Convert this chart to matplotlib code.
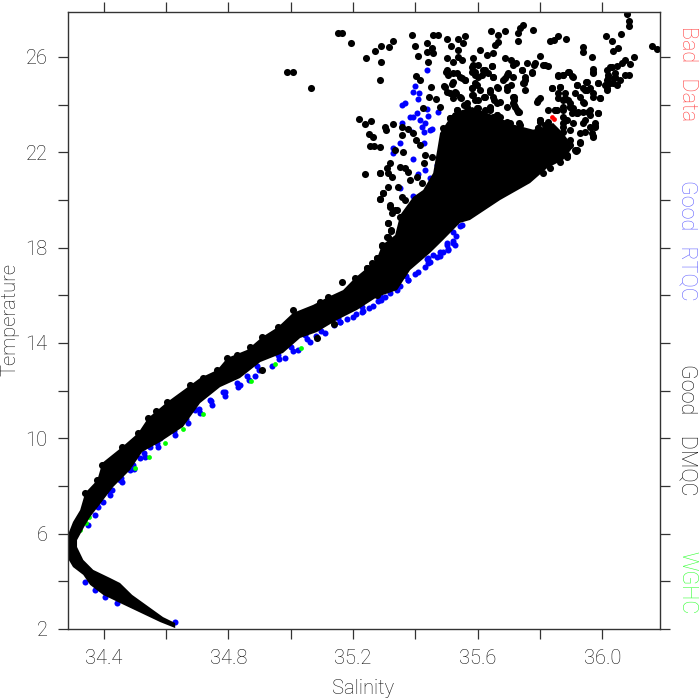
import matplotlib
matplotlib.use('Agg')
import matplotlib.pyplot as plt
from matplotlib.ticker import MultipleLocator, FixedLocator, FixedFormatter

plt.rcParams['font.family'] = ['Roboto', 'DejaVu Sans']

x_ticks = [34.4, 34.8, 35.2, 35.6, 36.0]
x_labels = ['34.4', '34.8', '35.2', '35.6', '36.0']
y_ticks = [2, 6, 10, 14, 18, 22, 26]
y_labels = ['2', '6', '10', '14', '18', '22', '26']

# the saturated part of the cloud, where single points cannot be told apart: outline only
core_sal = [34.629, 34.581, 34.452, 34.398, 34.356, 34.334, 34.301, 34.282, 34.282, 34.301, 34.324, 34.340, 34.379,
            34.395, 34.459, 34.510, 34.542, 34.603, 34.709, 34.764, 34.796, 34.860, 34.908, 34.959, 35.007, 35.072,
            35.120, 35.168, 35.206, 35.245, 35.277, 35.293, 35.335, 35.351, 35.393, 35.425, 35.457, 35.470, 35.479,
            35.521, 35.582, 35.640, 35.704, 35.778, 35.810, 35.842, 35.874, 35.906, 35.874, 35.823, 35.768, 35.672,
            35.575, 35.543, 35.489, 35.447, 35.383, 35.341, 35.277, 35.213, 35.149, 35.084, 35.030, 34.975, 34.902,
            34.837, 34.773, 34.709, 34.654, 34.581, 34.523, 34.484, 34.430, 34.356, 34.340, 34.314, 34.314, 34.334,
            34.366, 34.420, 34.452, 34.491, 34.590, 34.629]
core_temp = [2.04, 2.29, 3.09, 3.43, 3.85, 4.27, 4.60, 5.02, 5.86, 6.49, 6.99, 7.71, 8.25,
             8.97, 9.64, 10.22, 10.85, 11.52, 12.53, 12.87, 13.37, 13.71, 14.25, 14.67, 15.26, 15.60,
             15.93, 16.22, 16.73, 17.15, 17.57, 18.11, 18.53, 19.37, 20.13, 20.42, 21.13, 22.10, 22.81,
             23.65, 23.90, 23.60, 23.20, 22.95, 23.06, 23.23, 22.81, 22.22, 21.68, 21.34, 20.71, 20.00,
             19.16, 19.04, 18.32, 17.78, 17.06, 16.22, 15.93, 15.39, 14.97, 14.46, 14.21, 13.58, 13.20,
             12.53, 12.15, 11.48, 10.48, 9.85, 9.43, 8.67, 7.96, 6.70, 6.36, 5.73, 5.44, 4.90,
             4.48, 4.14, 3.93, 3.43, 2.50, 2.25]

# Good DMQC
dmqc_sal = [36.080, 36.087, 36.085, 36.059, 36.012, 36.030, 36.033, 36.049, 36.158, 36.174, 36.103, 36.089, 36.073,
            36.062, 36.046, 36.030, 36.014, 36.019, 36.041, 36.057, 36.073, 36.087, 36.014, 36.009, 36.035, 36.014,
            36.046, 35.746, 35.736, 35.730, 35.730, 35.776, 35.688, 35.666, 35.644, 35.666, 35.655, 35.883, 35.859,
            35.832, 35.845, 35.939, 35.937, 35.968, 35.971, 35.969, 35.891, 35.875, 35.859, 35.902, 35.948, 35.918,
            35.939, 35.960, 35.987, 35.388, 35.458, 35.474, 35.502, 35.559, 35.538, 35.554, 35.327, 35.288, 35.270,
            35.316, 35.193, 35.241, 35.291, 35.286, 35.399, 35.407, 35.438, 35.452, 35.438, 35.458, 35.441, 35.500,
            35.522, 35.538, 35.538, 35.548, 35.514, 35.607, 35.629, 35.650, 35.586, 35.688, 35.707, 35.722, 35.800,
            35.757, 35.784, 35.811, 35.827, 35.741, 35.773, 35.752, 35.744, 35.714, 35.693, 35.682, 35.645, 35.623,
            35.602, 35.584, 35.581, 35.500, 35.506, 35.532, 35.548, 35.522, 35.559, 35.591, 35.613, 35.650, 35.401,
            35.415, 35.450, 35.495, 35.500, 35.527, 35.543, 35.581, 35.597, 35.639, 35.666, 35.693, 35.837, 35.864,
            35.880, 35.891, 35.859, 35.800, 35.789, 35.714, 35.714, 35.725, 35.445, 35.466, 35.425, 35.479, 35.511,
            35.538, 35.565, 35.597, 35.639, 35.661, 35.693, 35.701, 35.736, 35.800, 35.795, 35.848, 35.875, 35.896,
            35.918, 35.939, 35.960, 35.987, 35.928, 35.950, 35.971, 35.993, 35.902,
            35.220, 35.239, 35.257, 35.302, 35.306, 35.329, 35.356, 35.377, 35.391, 35.251, 35.263, 35.254, 35.267,
            35.286, 35.356, 35.401, 35.415, 35.334, 35.361, 35.318, 35.308, 35.351, 35.367, 35.324, 35.286, 35.238,
            35.377, 35.313, 35.297, 35.287, 35.356, 35.367, 35.383, 35.404, 35.420, 35.452, 35.431, 35.428, 35.318,
            35.334, 35.324, 35.351, 35.313, 35.321, 35.310, 35.292, 35.278, 35.308,
            35.693, 35.725, 35.757, 35.821, 35.875, 35.976, 35.969, 35.928, 35.915, 35.886, 35.864, 35.832, 35.811,
            35.490, 35.543, 35.586, 35.618, 35.650, 35.672, 35.714, 35.768, 35.843, 35.896, 35.939, 35.896, 35.853,
            35.152, 35.165, 34.988, 35.007, 35.065,
            35.287, 35.312, 35.344, 35.296, 35.287, 35.319, 35.341, 35.312, 35.322, 35.312, 35.293, 35.277, 35.261,
            35.245, 35.206, 35.165,
            35.533, 35.544, 35.565, 35.592, 35.602, 35.619, 35.640, 35.661, 35.672, 35.693, 35.715, 35.720, 35.731,
            35.731, 35.704, 35.672, 35.800, 35.816, 35.854, 35.875, 35.897, 35.886, 35.918, 35.940, 35.961, 35.977,
            35.966, 35.929, 35.918, 35.886, 35.875, 35.651, 35.581, 35.608, 35.512, 35.490, 35.490,
            35.085, 35.139, 35.277, 34.908, 35.007, 34.568, 34.395, 34.796, 34.908, 34.959, 34.719, 34.869, 34.542,
            34.603, 34.459, 34.677, 34.828, 35.030, 35.094, 34.379, 34.340, 34.510, 34.764, 35.120, 35.245]
dmqc_temp = [27.81, 27.53, 27.28, 26.96, 26.86, 26.65, 26.26, 26.37, 26.44, 26.34, 26.02, 25.70, 25.88,
             25.74, 25.64, 25.56, 25.46, 25.25, 25.15, 25.04, 25.25, 25.25, 25.04, 24.83, 24.90, 24.62,
             24.83, 27.35, 27.21, 27.00, 26.69, 27.14, 27.11, 26.93, 27.11, 26.61, 26.51, 26.76, 26.89,
             26.65, 26.72, 26.40, 26.23, 26.02, 25.49, 25.32, 25.39, 25.25, 25.21, 25.21, 24.97, 24.83,
             24.69, 24.69, 24.90, 26.93, 26.93, 26.93, 26.76, 26.89, 26.76, 26.58, 26.66, 26.47, 26.27,
             26.41, 26.59, 25.95, 25.77, 25.03, 26.44, 26.05, 26.58, 26.37, 26.19, 26.16, 25.81, 25.95,
             25.81, 26.30, 26.02, 25.88, 26.47, 26.30, 26.09, 26.16, 25.95, 25.95, 25.88, 25.74, 26.05,
             25.74, 25.74, 25.67, 25.64, 25.46, 25.39, 25.04, 24.90, 25.18, 25.25, 25.04, 25.63, 25.46,
             25.67, 25.67, 25.39, 25.46, 25.25, 25.32, 25.11, 24.97, 25.04, 25.25, 25.25, 25.18, 25.21,
             25.04, 24.73, 24.76, 24.55, 24.55, 24.34, 24.69, 24.83, 24.55, 24.69, 24.73, 24.69, 24.76,
             24.48, 24.20, 24.27, 24.27, 24.13, 24.34, 24.06, 23.78, 24.31, 24.24, 23.85, 23.89, 23.43,
             23.64, 23.92, 23.85, 23.85, 23.57, 23.29, 23.01, 23.15, 23.29, 23.01, 23.78, 23.78, 23.92,
             23.64, 23.71, 23.57, 23.64, 24.34, 24.62, 24.34, 24.27, 23.64,
             23.39, 23.19, 23.33, 23.08, 22.94, 23.18, 23.08, 22.97, 22.80, 22.77, 22.63, 22.28, 22.28,
             22.24, 22.73, 22.52, 22.31, 22.10, 22.03, 21.54, 21.33, 21.40, 21.33, 20.98, 21.12, 21.11,
             21.19, 20.56, 20.31, 20.03, 20.14, 20.00, 20.84, 20.98, 20.70, 21.82, 21.89, 21.54, 19.72,
             19.58, 19.44, 19.30, 19.05, 18.71, 18.43, 18.08, 17.58, 17.76,
             22.66, 22.80, 22.80, 22.66, 23.08, 23.11, 22.69, 22.38, 22.07, 21.86, 21.61, 21.33, 21.15,
             22.52, 22.66, 23.22, 23.36, 23.50, 22.87, 22.66, 22.52, 22.80, 22.94, 23.22, 22.52, 22.38,
             27.01, 27.01, 25.37, 25.37, 24.70,
             21.13, 21.13, 20.55, 20.29, 20.04, 19.79, 19.58, 19.04, 18.74, 18.45, 18.11, 17.57, 17.36,
             17.15, 16.73, 16.56,
             23.78, 23.36, 24.06, 24.20, 23.64, 24.34, 23.78, 24.06, 23.50, 23.92, 24.20, 23.92, 23.71,
             23.22, 23.22, 23.08, 23.36, 23.15, 23.78, 24.20, 23.92, 23.36, 23.64, 24.06, 23.78, 23.22,
             22.80, 22.80, 22.10, 21.82, 23.22, 24.20, 24.41, 24.62, 24.48, 23.01, 22.52,
             14.21, 14.80, 16.01, 12.87, 15.39, 11.15, 8.88, 13.37, 14.25, 14.67, 12.53, 13.83, 10.85,
             11.52, 9.64, 12.24, 13.50, 15.05, 15.72, 8.25, 7.71, 10.22, 12.87, 15.93, 17.15]

# Good DMQC, clumps in the upper part of the cloud
upper_sal = [35.498, 35.520, 35.492, 35.516, 35.543, 35.559, 35.530, 35.522, 35.545, 35.556, 35.581, 35.591, 35.602,
             35.618, 35.634, 35.650, 35.645, 35.581, 35.591, 35.586, 35.602, 35.623, 35.640, 35.661, 35.650, 35.672,
             35.688, 35.698, 35.706, 35.693, 35.714, 35.741, 35.752, 35.747, 35.752, 35.717, 35.717, 35.730, 35.680,
             35.661, 35.533, 35.511, 35.554, 35.575, 35.602, 35.623, 35.640,
             35.816, 35.779, 35.773, 35.859, 35.875, 35.894, 35.905, 35.971, 36.025, 36.041, 36.019, 36.014, 35.950,
             35.918, 35.838, 35.864, 35.987, 36.025, 36.036, 35.795, 35.880, 35.859, 35.912, 35.945, 35.971, 35.993,
             35.939, 35.896, 35.875, 35.907, 35.987, 35.955, 35.923, 35.827, 35.848, 35.800, 35.827, 35.875, 35.907,
             35.945, 35.961, 35.977, 35.945, 35.971, 35.929, 35.912, 35.886, 35.896, 35.875, 35.838, 35.795]
upper_temp = [25.39, 25.32, 24.79, 24.87, 25.15, 25.04, 24.48, 24.27, 24.27, 23.99, 24.69, 24.90, 25.18,
              25.46, 25.32, 25.18, 25.63, 25.60, 25.39, 24.41, 24.20, 24.34, 24.62, 24.76, 24.34, 24.13,
              25.11, 25.32, 24.83, 24.62, 25.67, 25.46, 25.18, 24.90, 24.62, 24.34, 23.99, 23.68, 23.22,
              23.57, 23.78, 23.43, 23.64, 23.71, 23.85, 23.78, 23.92,
              25.67, 25.67, 25.32, 25.25, 25.25, 25.35, 25.15, 25.39, 25.60, 25.32, 25.11, 24.69, 24.97,
              24.83, 24.69, 24.76, 24.90, 24.90, 25.11, 24.20, 24.27, 24.48, 24.48, 24.62, 24.48, 24.27,
              24.13, 24.06, 23.92, 23.85, 23.67, 23.71, 23.71, 23.78, 23.78, 23.36, 23.29, 23.50, 23.22,
              23.36, 23.08, 23.08, 22.87, 22.66, 22.45, 22.10, 21.89, 22.31, 22.87, 22.94, 23.01]

# Good RTQC
rtqc_sal = [35.543, 35.527, 35.505, 35.479, 35.447, 35.409, 35.376, 35.341, 35.303, 35.264, 35.229, 35.200, 35.158,
            35.110, 35.062, 35.023, 34.982, 34.940, 34.886, 34.837, 34.789, 34.741, 34.693, 34.651, 34.613, 34.581,
            34.549, 34.516, 34.484, 34.452, 34.427, 34.398, 34.372, 34.350, 34.340, 34.372, 34.404, 34.443, 34.629,
            35.438, 35.399, 35.393, 35.413, 35.407, 35.367, 35.356, 35.474, 35.436, 35.441, 35.404, 35.383, 35.393,
            35.415, 35.431, 35.447, 35.428, 35.356, 35.351, 35.329, 35.327, 35.428, 35.393, 35.468, 35.431, 35.474,
            35.409, 35.447, 35.351, 35.393, 35.468, 35.548, 35.522, 35.500, 35.522, 35.479, 35.458, 35.441, 35.345,
            35.388, 35.452, 35.420,
            34.382, 34.420, 34.459, 34.497, 34.533, 34.574, 34.629, 34.670, 34.709, 34.748, 34.789, 34.831, 34.866,
            34.898, 34.963, 35.007, 35.052, 35.097, 35.158, 35.232, 35.290, 35.376, 35.441, 35.505,
            34.377, 34.415, 34.454, 34.492, 34.528, 34.569, 34.624, 34.665, 34.704, 34.743, 34.784, 34.826, 34.861,
            34.893, 34.958, 35.002, 35.047, 35.092, 35.153, 35.227, 35.285, 35.371, 35.436, 35.500,
            35.40, 35.43, 35.47, 35.49, 35.35, 35.32, 35.28, 35.25, 35.21, 35.18, 35.14, 35.08, 35.52, 35.53]
rtqc_temp = [18.91, 18.11, 17.90, 17.65, 17.40, 16.98, 16.64, 16.22, 15.93, 15.55, 15.30, 15.09, 14.88,
             14.42, 14.04, 13.71, 13.37, 13.04, 12.62, 12.24, 11.94, 11.61, 11.19, 10.85, 10.43, 10.01,
             9.64, 9.18, 8.67, 8.25, 7.83, 7.33, 6.78, 6.36, 3.97, 3.64, 3.34, 3.09, 2.29,
             25.45, 24.80, 24.51, 24.48, 24.23, 24.09, 23.99, 23.71, 23.82, 23.54, 23.64, 23.47, 23.47,
             23.36, 23.22, 22.94, 22.87, 23.25, 22.41, 22.17, 21.96, 22.41, 21.71, 21.47, 21.26, 21.12,
             21.08, 20.91, 20.52, 20.17, 20.11, 18.95, 18.64, 18.18, 18.18, 17.83, 17.69, 17.55, 18.32,
             22.87, 22.97, 23.08,
             7.12, 7.62, 8.17, 8.71, 9.22, 9.64, 10.14, 10.64, 11.06, 11.40, 11.78, 12.15, 12.45,
             12.87, 13.33, 13.66, 14.17, 14.50, 14.88, 15.34, 15.81, 16.64, 17.36, 17.94,
             7.29, 7.79, 8.34, 8.88, 9.39, 9.81, 10.31, 10.81, 11.23, 11.57, 11.95, 12.32, 12.62,
             13.04, 13.50, 13.83, 14.34, 14.67, 15.05, 15.51, 15.98, 16.81, 17.53, 18.11,
             16.9, 17.2, 17.6, 17.8, 16.4, 16.1, 15.75, 15.45, 15.2, 15.0, 14.75, 14.3, 18.3, 18.5]

# WGHC
wghc_sal = [34.950, 34.873, 35.033, 34.719, 34.654, 34.597, 34.500, 34.545, 34.353, 34.343, 34.324]
wghc_temp = [13.12, 12.41, 13.79, 11.02, 10.39, 9.80, 8.76, 9.22, 6.70, 6.45, 6.15]

# Bad data
bad_sal = [35.838, 35.845]
bad_temp = [23.5, 23.4]

fig = plt.figure(figsize=(7, 7), dpi=100)
ax = fig.add_axes([67.7 / 700, 1 - 629 / 700, 592 / 700, 617.3 / 700])

ax.scatter(rtqc_sal, rtqc_temp, s=19, color='#0000ff', linewidths=0)
ax.scatter(wghc_sal, wghc_temp, s=12, color='#00ff00', linewidths=0)
ax.fill(core_sal, core_temp, color='black', linewidth=0)
ax.scatter(dmqc_sal + upper_sal, dmqc_temp + upper_temp, s=26, color='black', linewidths=0)
ax.scatter(bad_sal, bad_temp, s=12, color='#ff0000', linewidths=0)

ax.set_xlim(34.284, 36.184)
ax.set_ylim(2, 27.9)
ax.xaxis.set_major_locator(FixedLocator(x_ticks))
ax.xaxis.set_major_formatter(FixedFormatter(x_labels))
ax.xaxis.set_minor_locator(MultipleLocator(0.2))
ax.yaxis.set_major_locator(FixedLocator(y_ticks))
ax.yaxis.set_major_formatter(FixedFormatter(y_labels))
ax.yaxis.set_minor_locator(MultipleLocator(2))
ax.tick_params(which='both', direction='out', length=7.5, width=0.9, color='#333333',
               top=True, right=True, labelcolor='#111111')
ax.tick_params(which='major', labelsize=14.5, pad=7)
for label in ax.get_xticklabels() + ax.get_yticklabels():
    label.set_fontweight('light')
for spine in ax.spines.values():
    spine.set_linewidth(1.0)
    spine.set_color('#333333')

fig.text(363 / 700, 1 - 688 / 700, 'Salinity', fontsize=14.5, color='#111111', ha='center', va='center',
         fontweight='light')
fig.text(10 / 700, 1 - 320 / 700, 'Temperature', fontsize=14.5, color='#111111', ha='center', va='center',
         rotation=90, fontweight='light')

fig.text(687 / 700, 1 - 74 / 700, 'Bad   Data', fontsize=15.5, color='#ff4444', ha='center', va='center',
         rotation=-90, fontweight='light')
fig.text(687 / 700, 1 - 240 / 700, 'Good   RTQC', fontsize=15.5, color='#6666ff', ha='center', va='center',
         rotation=-90, fontweight='light')
fig.text(687 / 700, 1 - 430 / 700, 'Good    DMQC', fontsize=15.5, color='#111111', ha='center', va='center',
         rotation=-90, fontweight='light')
fig.text(687 / 700, 1 - 583 / 700, 'WGHC', fontsize=15.5, color='#33ff33', ha='center', va='center',
         rotation=-90, fontweight='light')

fig.savefig('out.png', dpi=100)
